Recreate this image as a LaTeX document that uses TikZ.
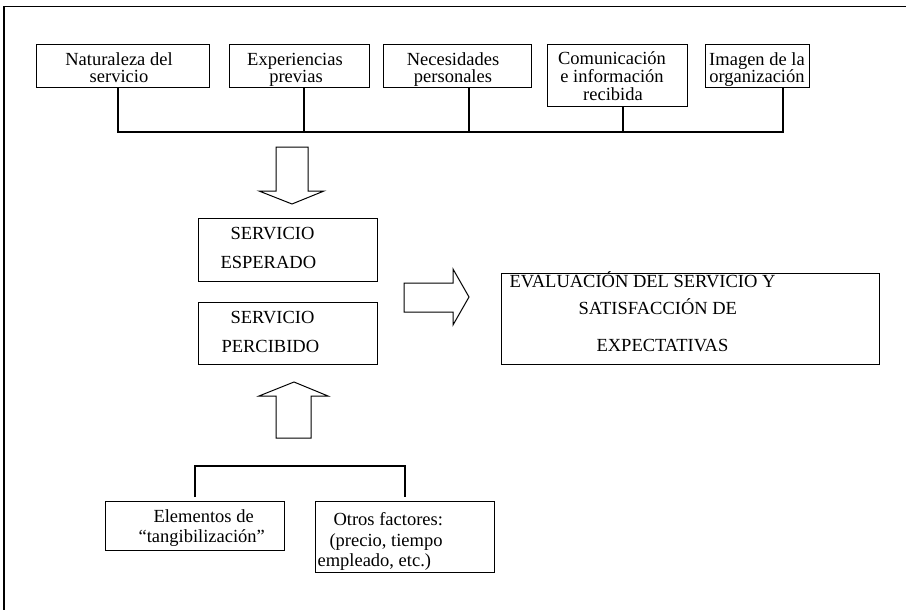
\documentclass[tikz,border=0pt]{standalone}
\usepackage{fontspec}
\setmainfont{Liberation Serif}
\begin{document}
\begin{tikzpicture}[x=1pt,y=-1pt,line width=1.1pt,
  box/.style={draw,line width=1.1pt,inner sep=0pt,anchor=north west},
  txt/.style={font=\fontsize{18.5}{20}\selectfont,inner sep=0pt,anchor=base},
  txtw/.style={font=\fontsize{18.5}{20}\selectfont,inner sep=0pt,anchor=base west},
  blockarrow/.style={draw,line width=1pt,line join=miter}]
\useasboundingbox (0,0) rectangle (906,610);
% outer frame (open on right and bottom)
\draw (4,612) -- (4,6.5) -- (908,6.5);

% top boxes
\node[box,minimum width=173pt,minimum height=43pt] (b1) at (36,44) {};
\node[box,minimum width=140pt,minimum height=43pt] (b2) at (229,44) {};
\node[box,minimum width=148pt,minimum height=43pt] (b3) at (383,44) {};
\node[box,minimum width=140pt,minimum height=62pt] (b4) at (547,44) {};
\node[box,minimum width=104pt,minimum height=43pt] (b5) at (705,44) {};

\node[txt] (t1a) at (119,66) {Naturaleza del};
\node[txt] (t1b) at (119,83) {servicio};
\node[txt] (t2a) at (295,66) {Experiencias};
\node[txt] (t2b) at (296,83) {previas};
\node[txt] (t3a) at (453,66) {Necesidades};
\node[txt] (t3b) at (453,83) {personales};
\node[txt] (t4a) at (612,65) {Comunicación};
\node[txt] (t4b) at (612,83) {e información};
\node[txt] (t4c) at (613,100) {recibida};
\node[txt] (t5a) at (757,66) {Imagen de la};
\node[txt] (t5b) at (757,83) {organización};

% bus
\coordinate (c1) at (118,132);
\coordinate (c2) at (304,132);
\coordinate (c3) at (469,132);
\coordinate (c4) at (623,132);
\coordinate (c5) at (783,132);
\draw (b1.south -| c1) -- (c1) -- (c5) -- (b5.south -| c5);
\draw (b2.south -| c2) -- (c2);
\draw (b3.south -| c3) -- (c3);
\draw (b4.south -| c4) -- (c4);

% down block arrow
\draw[blockarrow] (276,147) -- (308,147) -- (308,191) -- (324,191) -- (292,204) -- (259,191) -- (276,191) -- cycle;

% middle boxes
\node[box,minimum width=179pt,minimum height=63pt] (esp) at (198,218) {};
\node[txtw] (esp1) at (230,239) {SERVICIO};
\node[txtw] (esp2) at (220,268) {ESPERADO};
\node[box,minimum width=179pt,minimum height=62pt] (per) at (198,302) {};
\node[txtw] (per1) at (230,323) {SERVICIO};
\node[txtw] (per2) at (221,352) {PERCIBIDO};

% right block arrow
\draw[blockarrow] (404,283) -- (453,283) -- (453,269) -- (469,297) -- (453,325) -- (453,312) -- (404,312) -- cycle;

% evaluation box
\node[box,minimum width=378pt,minimum height=91pt] (ev) at (501,273) {};
\node[txtw] (ev1) at (509,287) {EVALUACIÓN DEL SERVICIO Y};
\node[txtw] (ev2) at (578,314) {SATISFACCIÓN DE};
\node[txtw] (ev3) at (596,351) {EXPECTATIVAS};

% up block arrow
\draw[blockarrow] (276,438) -- (276,396) -- (259,396) -- (294,382) -- (328,396) -- (311,396) -- (311,438) -- cycle;

% bottom boxes
\node[box,minimum width=179pt,minimum height=49pt] (ele) at (105,501) {};
\node[txtw] (ele1) at (153,522) {Elementos de};
\node[txtw] (ele2) at (138,542) {“tangibilización”};
\node[box,minimum width=179pt,minimum height=71pt] (otr) at (315,501) {};
\node[txtw] (otr1) at (333,525) {Otros factores:};
\node[txtw] (otr2) at (329,546) {(precio, tiempo};
\node[txtw] (otr3) at (317,566) {empleado, etc.)};

% bracket
\coordinate (k1) at (195,466);
\coordinate (k2) at (405,466);
\draw ([yshift=4pt]ele.north -| k1) -- (k1) -- (k2) -- ([yshift=4pt]otr.north -| k2);
\end{tikzpicture}
\end{document}
